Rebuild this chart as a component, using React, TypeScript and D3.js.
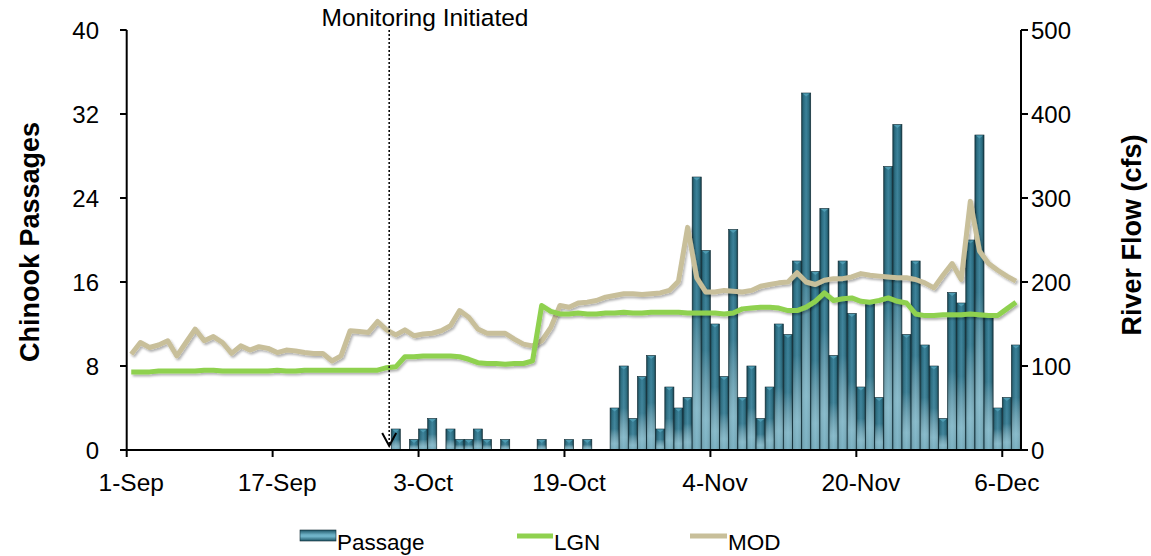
import React from 'react';
import * as d3 from 'd3';

// daily series, 1-Sep .. 7-Dec (98 days)
const START = new Date(2011, 8, 1);
const DAY_COUNT = 98;
const days = d3.timeDay.range(START, d3.timeDay.offset(START, DAY_COUNT));

const xTickLabels = ['1-Sep', '17-Sep', '3-Oct', '19-Oct', '4-Nov', '20-Nov', '6-Dec'];
const leftTicks = [0, 8, 16, 24, 32, 40];
const rightTicks = [0, 100, 200, 300, 400, 500];

// Chinook passages per day
const passage = [
  0, 0, 0, 0, 0, 0, 0, 0, 0, 0,
  0, 0, 0, 0, 0, 0, 0, 0, 0, 0,
  0, 0, 0, 0, 0, 0, 0, 0, 0, 2,
  0, 1, 2, 3, 0, 2, 1, 1, 2, 1,
  0, 1, 0, 0, 0, 1, 0, 0, 1, 0,
  1, 0, 0, 4, 8, 3, 7, 9, 2, 6,
  4, 5, 26, 19, 12, 7, 21, 5, 8, 3,
  6, 12, 11, 18, 34, 17, 23, 9, 18, 13,
  6, 14, 5, 27, 31, 11, 18, 10, 8, 3,
  15, 14, 20, 30, 13, 4, 5, 10,
];

// river flow (cfs)
const lgn = [
  93, 93, 93, 94, 94, 94, 94, 94, 95, 95,
  94, 94, 94, 94, 94, 94, 95, 94, 94, 95,
  95, 95, 95, 95, 95, 95, 95, 95, 98, 99,
  111, 111, 112, 112, 112, 112, 111, 108, 104, 103,
  103, 102, 103, 103, 106, 172, 165, 162, 162, 163,
  162, 162, 163, 163, 164, 163, 163, 164, 164, 164,
  164, 163, 163, 163, 163, 162, 163, 168, 169, 170,
  170, 169, 166, 166, 170, 177, 187, 178, 180, 181,
  177, 176, 178, 181, 177, 175, 162, 160, 160, 161,
  161, 161, 162, 161, 160, 160, 168, 176,
];

const mod = [
  114, 128, 122, 125, 130, 112, 128, 144, 130, 135,
  128, 115, 124, 119, 123, 121, 116, 119, 118, 116,
  115, 115, 106, 112, 142, 141, 140, 153, 143, 137,
  143, 136, 138, 139, 142, 148, 166, 158, 144, 139,
  139, 139, 132, 126, 124, 130, 146, 172, 170, 175,
  176, 178, 182, 184, 186, 186, 185, 186, 187, 190,
  201, 265, 205, 188, 188, 190, 189, 188, 190, 195,
  197, 199, 200, 211, 200, 197, 202, 204, 204, 206,
  210, 208, 207, 206, 205, 205, 203, 199, 193, 208,
  222, 203, 296, 237, 222, 214, 207, 201,
];

const MONITOR_DAY = 29;
const fmt = d3.timeFormat('%-d-%b');
const FONT = 'Liberation Sans, Arial, Helvetica, sans-serif';

export default function App() {
  const width = 1151;
  const height = 556;
  const x = d3.scaleBand<number>().domain(d3.range(DAY_COUNT)).range([126.7, 1020.5]).padding(0);
  const bw = x.bandwidth();
  const yL = d3.scaleLinear().domain([0, 40]).range([450, 30]);
  const yR = d3.scaleLinear().domain([0, 500]).range([450, 30]);

  const line = d3
    .line<number>()
    .x((_, i) => (x(i) as number) + bw / 2)
    .y((v) => yR(v));

  const tickIdx = xTickLabels.map((l) => days.findIndex((d) => fmt(d) === l));
  const monX = (x(MONITOR_DAY) as number) - 2;

  return (
    <svg width={width} height={height} style={{ position: 'absolute', left: 0, top: 0, background: '#fff' }} fontFamily={FONT}>
      <defs>
        <linearGradient id="barSide" x1="0" x2="1" y1="0" y2="0">
          <stop offset="0%" stopColor="#163f4c" />
          <stop offset="22%" stopColor="#2a6c80" />
          <stop offset="50%" stopColor="#3a8199" />
          <stop offset="78%" stopColor="#2a6c80" />
          <stop offset="100%" stopColor="#143945" />
        </linearGradient>
        <linearGradient id="barShine" x1="0" x2="0" y1="0" y2="1">
          <stop offset="0%" stopColor="#ffffff" stopOpacity="0" />
          <stop offset="50%" stopColor="#ffffff" stopOpacity="0.05" />
          <stop offset="85%" stopColor="#bfe4ef" stopOpacity="0.6" />
          <stop offset="100%" stopColor="#bfe4ef" stopOpacity="0.5" />
        </linearGradient>
        <linearGradient id="legendBar" x1="0" x2="0" y1="0" y2="1">
          <stop offset="0%" stopColor="#1d5566" />
          <stop offset="45%" stopColor="#6fb3c8" />
          <stop offset="60%" stopColor="#6fb3c8" />
          <stop offset="100%" stopColor="#1d5566" />
        </linearGradient>
        <filter id="shadow" x="-5%" y="-20%" width="110%" height="140%">
          <feDropShadow dx="1.5" dy="2" stdDeviation="1.3" floodColor="#000" floodOpacity="0.3" />
        </filter>
      </defs>

      {/* bars */}
      <g>
        {passage.map((v, i) => {
          if (!v) return null;
          const bx = x(i) as number;
          const top = yL(v);
          const h = yL(0) - top;
          return (
            <g key={i}>
              <rect x={bx} y={top} width={bw} height={h} fill="url(#barSide)" stroke="#0e2a33" strokeWidth={0.6} />
              <rect x={bx + 0.5} y={top} width={bw - 1} height={h} fill="url(#barShine)" />
              <path
                d={`M${bx + 1},${top + 0.5} L${bx + bw - 1},${top + 0.5} L${bx + bw / 2},${top + 3.5} Z`}
                fill="#4d9bb2"
              />
            </g>
          );
        })}
      </g>

      {/* flow lines */}
      <path d={line(mod) || ''} fill="none" stroke="#c8bf9a" strokeWidth={5} strokeLinejoin="round" filter="url(#shadow)" />
      <path d={line(lgn) || ''} fill="none" stroke="#8fd14f" strokeWidth={5} strokeLinejoin="round" filter="url(#shadow)" />

      {/* monitoring marker */}
      <line x1={monX} x2={monX} y1={30} y2={444} stroke="#000" strokeWidth={1.5} strokeDasharray="2,2" />
      <path d={`M${monX - 7},${433} L${monX},${446} L${monX + 7},${433}`} fill="none" stroke="#000" strokeWidth={2} />
      <text x={425} y={26} textAnchor="middle" fontSize={24.5}>Monitoring Initiated</text>

      {/* axes */}
      <line x1={126.7} x2={1021} y1={450} y2={450} stroke="#000" strokeWidth={2} />
      <line x1={126.7} x2={126.7} y1={30} y2={451} stroke="#000" strokeWidth={2} />
      <line x1={1021} x2={1021} y1={30} y2={451} stroke="#000" strokeWidth={2} />

      {tickIdx.map((d, k) => (
        <g key={k}>
          <line x1={x(d) as number} x2={x(d) as number} y1={450} y2={457} stroke="#000" strokeWidth={2} />
          <text x={(x(d) as number) + bw / 2} y={491} textAnchor="middle" fontSize={24.5}>{xTickLabels[k]}</text>
        </g>
      ))}

      {leftTicks.map((t) => (
        <g key={t}>
          <line x1={120} x2={126.7} y1={yL(t)} y2={yL(t)} stroke="#000" strokeWidth={2} />
          <text x={99} y={yL(t)} dy="0.36em" textAnchor="end" fontSize={24}>{t}</text>
        </g>
      ))}

      {rightTicks.map((t) => (
        <g key={t}>
          <line x1={1021} x2={1028} y1={yR(t)} y2={yR(t)} stroke="#000" strokeWidth={2} />
          <text x={1031} y={yR(t)} dy="0.36em" textAnchor="start" fontSize={24}>{t}</text>
        </g>
      ))}

      <text transform="translate(39,242) rotate(-90)" textAnchor="middle" fontSize={27} fontWeight="bold">Chinook Passages</text>
      <text transform="translate(1141,235) rotate(-90)" textAnchor="middle" fontSize={27} fontWeight="bold">River Flow (cfs)</text>

      {/* legend */}
      <g fontSize={22.5}>
        <rect x={300} y={530} width={36} height={11} fill="url(#legendBar)" stroke="#0e2a33" strokeWidth={0.6} />
        <text x={337} y={550}>Passage</text>
        <line x1={517} x2={553} y1={536} y2={536} stroke="#8fd14f" strokeWidth={5} />
        <text x={554} y={550}>LGN</text>
        <line x1={690} x2={727} y1={536} y2={536} stroke="#c8bf9a" strokeWidth={5} />
        <text x={728} y={550}>MOD</text>
      </g>
    </svg>
  );
}
